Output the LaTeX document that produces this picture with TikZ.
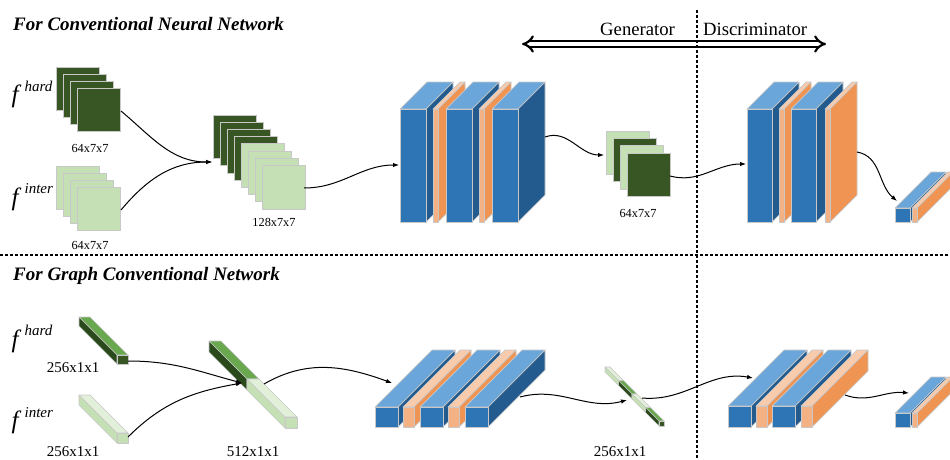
\documentclass[tikz,border=0pt]{standalone}
\usepackage{fontspec}
\setmainfont{Liberation Serif}
\usetikzlibrary{arrows.meta}

\definecolor{dkgreen}{HTML}{375623}
\definecolor{hardside}{HTML}{2B4A1B}
\definecolor{midgreen}{HTML}{6AA84F}
\definecolor{ltgreen}{HTML}{C5E0B4}
\definecolor{palegreen}{HTML}{E2F0D9}
\definecolor{blueF}{HTML}{2E75B6}
\definecolor{blueT}{HTML}{6AA6DA}
\definecolor{blueS}{HTML}{235B8E}
\definecolor{orF}{HTML}{F4B183}
\definecolor{orT}{HTML}{F8CBAD}
\definecolor{orS}{HTML}{EF9453}
\definecolor{edgegray}{HTML}{C8C8C8}

\newcommand\ttlfont{\fontsize{19}{22}\selectfont\bfseries\itshape}
\newcommand\hdrfont{\fontsize{18.7}{22}\selectfont}
\newcommand\smlfont{\fontsize{12.3}{14}\selectfont}
\newcommand\medfont{\fontsize{15}{18}\selectfont}
\newcommand\ffont{\fontsize{25}{28}\selectfont\itshape}
\newcommand\supfont{\fontsize{15}{18}\selectfont\itshape}

% cuboid: x, y (top-left corner of the front face), width, height,
% depth dx, depth dy, front / top / side colours
\newcommand\cuboid[9]{%
  \pgfmathsetmacro\cubsx{(#5>0)*(#3)}%
  \filldraw[face,fill=#8] (#1,#2) -- ++(#5,#6) -- ++(#3,0) -- ++({-(#5)},{-(#6)}) -- cycle;
  \filldraw[face,fill=#9] ({#1+\cubsx},#2) -- ++(#5,#6) -- ++(0,#4) -- ++({-(#5)},{-(#6)}) -- cycle;
  \filldraw[face,fill=#7] (#1,#2) rectangle ++(#3,#4);
}
% one square feature map
\newcommand\fmsq[3]{\filldraw[face,fill=#3] (#1,#2) rectangle ++(43.5,43.5);}

\begin{document}
\begin{tikzpicture}[x=1pt,y=-1pt,
  face/.style={draw=edgegray,line width=0.7pt,line join=round},
  conn/.style={-{Latex[length=6pt,width=4.5pt]},line width=1pt,black},
  sep/.style={line width=2.5pt,dash pattern=on 3pt off 2pt},
  lbl/.style={inner sep=0pt,font=\smlfont},
  mlbl/.style={inner sep=0pt,font=\medfont},
  txt/.style={anchor=base west,inner sep=0pt}]
\useasboundingbox (0,0) rectangle (950,460);
\fill[white] (0,0) rectangle (950,460);
\clip (0,0) rectangle (950,460);

% ---------- CNN branch ----------
\node[txt] (ttlcnn) at (13,31) {\ttlfont For Conventional Neural Network};

\node[txt] (fhardA) at (11.5,102) {\ffont f\kern6pt\raisebox{11pt}{\supfont hard}};
\node[txt] (finterA) at (11.5,205) {\ffont f\kern6pt\raisebox{12pt}{\supfont inter}};

\foreach \i in {0,...,3} \fmsq{56+7*\i}{67+7*\i}{dkgreen};
\foreach \i in {0,...,3} \fmsq{56+7*\i}{166+7*\i}{ltgreen};
\node[lbl] (l64a) at (90,148) {64x7x7};
\node[lbl] (l64b) at (90,245) {64x7x7};

\foreach \i in {0,...,3} \fmsq{213+7*\i}{115+7.2*\i}{dkgreen};
\foreach \i in {4,...,7} \fmsq{213+7*\i}{115+7.2*\i}{ltgreen};
\node[lbl] (l128) at (274,222) {128x7x7};

% generator
\cuboid{400}{109}{26}{113}{27}{-27}{blueF}{blueT}{blueS}
\cuboid{433}{109}{5}{113}{27}{-27}{orF}{orT}{orS}
\cuboid{446}{109}{26}{113}{27}{-27}{blueF}{blueT}{blueS}
\cuboid{479}{109}{5}{113}{27}{-27}{orF}{orT}{orS}
\cuboid{492}{109}{26}{113}{27}{-27}{blueF}{blueT}{blueS}

\foreach \i/\c in {0/ltgreen,1/dkgreen,2/ltgreen,3/dkgreen}
  \fmsq{606+7*\i}{131+7.3*\i}{\c};
\node[lbl] (l64c) at (638,213) {64x7x7};

% discriminator
\cuboid{747}{109}{25}{113}{27}{-27}{blueF}{blueT}{blueS}
\cuboid{779}{109}{5}{113}{27}{-27}{orF}{orT}{orS}
\cuboid{791}{109}{25}{113}{27}{-27}{blueF}{blueT}{blueS}
\cuboid{825}{109}{5}{113}{27}{-27}{orF}{orT}{orS}

\cuboid{895}{208}{15}{14}{36}{-36}{blueF}{blueT}{blueS}
\cuboid{912}{208}{5}{14}{36}{-36}{orF}{orT}{orS}

% ---------- GCN branch ----------
\node[txt] (ttlgcn) at (13,280) {\ttlfont For Graph Conventional Network};

\node[txt] (fhardB) at (11.5,347) {\ffont f\kern6pt\raisebox{12pt}{\supfont hard}};
\node[txt] (finterB) at (11.5,428) {\ffont f\kern6pt\raisebox{11pt}{\supfont inter}};

\cuboid{117}{355}{11}{9}{-38}{-38}{dkgreen}{midgreen}{hardside}
\cuboid{117}{433}{11}{10}{-38}{-38}{ltgreen}{palegreen}{ltgreen}
\node[mlbl] (l256a) at (73,368) {256x1x1};
\node[mlbl] (l256b) at (73,452) {256x1x1};

\cuboid{247}{379}{12}{11}{-38}{-38}{dkgreen}{midgreen}{hardside}
\cuboid{285}{417}{12}{11}{-38}{-38}{ltgreen}{palegreen}{ltgreen}
\node[mlbl] (l512) at (253,452) {512x1x1};

% generator
\cuboid{375}{407}{23}{20}{57}{-57}{blueF}{blueT}{blueS}
\cuboid{403}{407}{11}{20}{57}{-57}{orF}{orT}{orS}
\cuboid{420}{407}{23}{20}{57}{-57}{blueF}{blueT}{blueS}
\cuboid{448}{407}{11}{20}{57}{-57}{orF}{orT}{orS}
\cuboid{465}{407}{23}{20}{57}{-57}{blueF}{blueT}{blueS}

\foreach \i/\c/\t/\s in {0/ltgreen/palegreen/ltgreen,1/dkgreen/midgreen/hardside,
                         2/ltgreen/palegreen/ltgreen,3/dkgreen/midgreen/hardside}
  \cuboid{618.5+13.5*\i}{380.5+13.5*\i}{5}{5}{-13.5}{-13.5}{\c}{\t}{\s};
\node[mlbl] (l256c) at (620,452) {256x1x1};

% discriminator
\cuboid{728}{406}{23}{21}{56}{-56}{blueF}{blueT}{blueS}
\cuboid{756}{406}{11}{21}{56}{-56}{orF}{orT}{orS}
\cuboid{772}{406}{23}{21}{56}{-56}{blueF}{blueT}{blueS}
\cuboid{801}{406}{11}{21}{56}{-56}{orF}{orT}{orS}

\cuboid{895}{413}{15}{14}{36}{-36}{blueF}{blueT}{blueS}
\cuboid{912}{413}{5}{14}{36}{-36}{orF}{orT}{orS}

% ---------- connectors ----------
\coordinate (hA) at (121,111);
\coordinate (iA) at (121,210);
\coordinate (mIn) at (212,162);
\coordinate (mOut) at (304,188);
\coordinate (gIn) at (399,165);
\coordinate (gOut) at (545,137);
\coordinate (goIn) at (604,155);
\coordinate (goOut) at (670,176);
\coordinate (dIn) at (746,164);
\coordinate (dOut) at (857,152);
\coordinate (oIn) at (897,201);

\draw[conn] (hA) to[out=-40,in=180] (mIn);
\draw[conn] (iA) to[out=50,in=180] (mIn);
\draw[conn] (mOut) to[out=0,in=180] (gIn);
\draw[conn] (gOut) to[out=20,in=180] (goIn);
\draw[conn] (goOut) to[out=-15,in=180] (dIn);
\draw[conn] (dOut) to[out=-10,in=140] (oIn);

\coordinate (bhA) at (128,361);
\coordinate (biA) at (128,437);
\coordinate (bmIn) at (242,383);
\coordinate (bmOut) at (264,384);
\coordinate (bgIn) at (392,383);
\coordinate (bgOut) at (520,397);
\coordinate (bgoIn) at (627,400);
\coordinate (bgoOut) at (642,398);
\coordinate (bdIn) at (753,378);
\coordinate (bdOut) at (845,395);
\coordinate (boIn) at (909,393);

\draw[conn] (bhA) to[out=0,in=165] (bmIn);
\draw[conn] (biA) to[out=45,in=190] (bmIn);
\draw[conn] (bmOut) to[out=30,in=160] (bgIn);
\draw[conn] (bgOut) to[out=15,in=195] (bgoIn);
\draw[conn] (bgoOut) to[out=-5,in=170] (bdIn);
\draw[conn] (bdOut) to[out=-20,in=175] (boIn);

% ---------- generator / discriminator split ----------
\coordinate (spanL) at (522,44);
\coordinate (spanR) at (826,44);
\draw[double,double distance=3.5pt,line width=2.2pt,{Implies[length=7pt]}-{Implies[length=7pt]}] (spanL) -- (spanR);
\node[txt] (gen) at (600,36) {\hdrfont Generator};
\node[txt] (dis) at (703,36) {\hdrfont Discriminator};

\coordinate (hsepL) at (0,255);
\coordinate (hsepR) at (950,255);
\coordinate (vsepT) at (697,10);
\coordinate (vsepB) at (697,460);
\draw[sep] (hsepL) -- (hsepR);
\draw[sep] (vsepT) -- (vsepB);
\end{tikzpicture}
\end{document}
